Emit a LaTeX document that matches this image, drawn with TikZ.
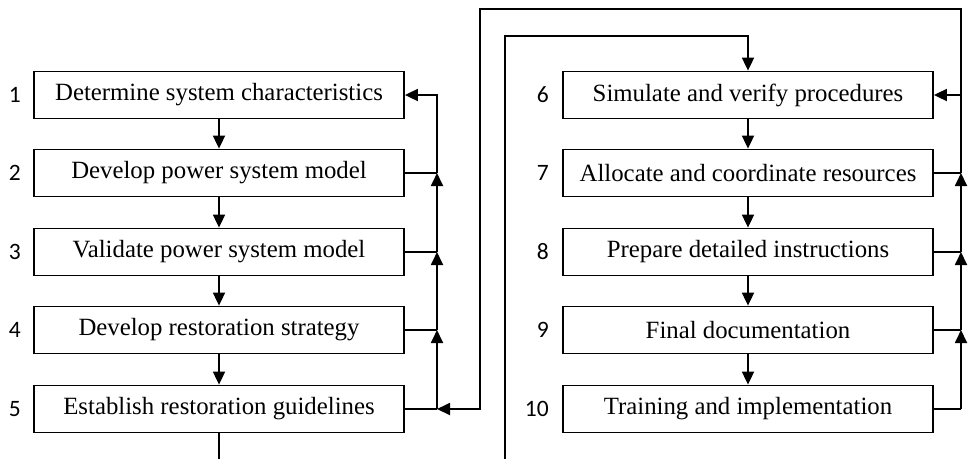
\documentclass[tikz,border=0pt]{standalone}
\usepackage{fontspec}
\setmainfont{Liberation Serif}
\newfontfamily\numfont{Carlito}
\usetikzlibrary{arrows.meta}
\begin{document}
\begin{tikzpicture}[x=1pt,y=-1pt,
  box/.style={draw, line width=1.8pt, minimum width=370pt, minimum height=47pt, inner sep=0pt, font=\fontsize{24.8}{28}\selectfont},
  num/.style={anchor=east, inner sep=0pt, font=\numfont\fontsize{23.5}{27}\selectfont},
  ln/.style={line width=1.8pt},
  arr/.style={line width=1.8pt, -{Triangle[length=13pt,width=12pt]}}]
\useasboundingbox (0,0) rectangle (969,459);
% left column
\node[box] (b1) at (219,95) {Determine system characteristics};
\node[box] (b2) at (219,173) {Develop power system model};
\node[box] (b3) at (219,252) {Validate power system model};
\node[box] (b4) at (219,330) {Develop restoration strategy};
\node[box] (b5) at (219,409) {Establish restoration guidelines};
% right column
\node[box] (b6) at (748,95) {Simulate and verify procedures};
\node[box] (b7) at (748,173) {Allocate and coordinate resources};
\node[box] (b8) at (748,252) {Prepare detailed instructions};
\node[box] (b9) at (748,330) {Final documentation};
\node[box] (b10) at (748,409) {Training and implementation};
% numbers
\node[num] (n1) at (21,95) {1};
\node[num] (n2) at (21,173) {2};
\node[num] (n3) at (21,252) {3};
\node[num] (n4) at (21,330) {4};
\node[num] (n5) at (21,409) {5};
\node[num] (n6) at (549,95) {6};
\node[num] (n7) at (549,173) {7};
\node[num] (n8) at (549,252) {8};
\node[num] (n9) at (549,330) {9};
\node[num] (n10) at (549,409) {10};
% helper coordinates
\coordinate (L) at (437,0);
\coordinate (R) at (961,0);
\coordinate (O) at (480,0);
\coordinate (T) at (0,9);
\coordinate (I) at (505,0);
\coordinate (T2) at (0,36);
\coordinate (B) at (0,459);
% forward arrows
\draw[arr] (b1) -- (b2);
\draw[arr] (b2) -- (b3);
\draw[arr] (b3) -- (b4);
\draw[arr] (b4) -- (b5);
\draw[arr] (b6) -- (b7);
\draw[arr] (b7) -- (b8);
\draw[arr] (b8) -- (b9);
\draw[arr] (b9) -- (b10);
% left feedback
\draw[ln] (b2.east) -- (b2.east -| L);
\draw[ln] (b3.east) -- (b3.east -| L);
\draw[ln] (b4.east) -- (b4.east -| L);
\draw[ln] (b5.east) -- (b5.east -| L);
\draw[arr] (b5.east -| L) -- (b4.east -| L);
\draw[arr] (b4.east -| L) -- (b3.east -| L);
\draw[arr] (b3.east -| L) -- (b2.east -| L);
\draw[arr] (b2.east -| L) -- (b1.east -| L) -- (b1.east);
% right feedback
\draw[ln] (b7.east) -- (b7.east -| R);
\draw[ln] (b8.east) -- (b8.east -| R);
\draw[ln] (b9.east) -- (b9.east -| R);
\draw[ln] (b10.east) -- (b10.east -| R);
\draw[arr] (b10.east -| R) -- (b9.east -| R);
\draw[arr] (b9.east -| R) -- (b8.east -| R);
\draw[arr] (b8.east -| R) -- (b7.east -| R);
\draw[arr] (b7.east -| R) -- (b6.east -| R) -- (b6.east);
% outer loop back to step 5
\draw[arr] (b6.east -| R) -- (R |- T) -- (O |- T) -- (O |- b5.east) -- (b5.east -| L);
% continuation from 5 to 6
\draw[ln] (b5.south) -- (b5.south |- B);
\draw[arr] (I |- B) -- (I |- T2) -- (b6.north |- T2) -- (b6.north);
\end{tikzpicture}
\end{document}
